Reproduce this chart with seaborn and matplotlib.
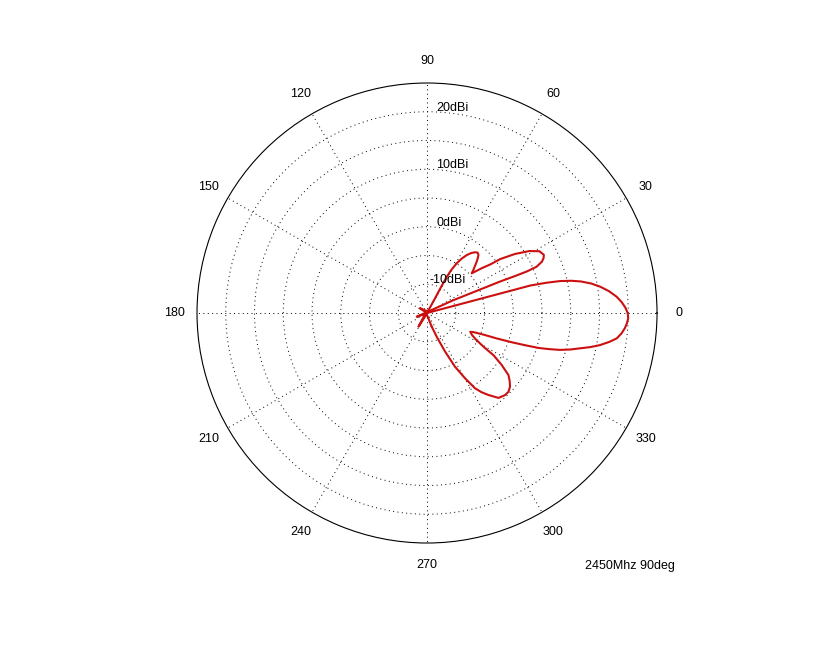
import numpy as np
import matplotlib
matplotlib.use('Agg')
import matplotlib.pyplot as plt
import matplotlib.transforms as mtransforms
import pandas as pd
import seaborn as sns

# ---- data (angle in degrees, gain in dBi) ----
angle_deg = [
    # lower side lobe
    -71.0, -67.7, -65.0, -62.5, -59.8, -57.5, -55.5, -53.2, -49.9, -46.4,
    -44.0, -41.6, -39.4, -37.3, -34.8, -32.4, -30.9, -28.5, -26.0, -23.5,
    # main lobe
    -22.4, -21.0, -20.0, -19.0, -18.2, -17.4, -16.5, -15.5, -14.3, -13.0,
    -11.8, -10.5, -9.0, -7.6, -6.0, -4.4, -3.0, -1.5, 0.0, 1.6,
    3.2, 4.9, 6.8, 8.6, 10.2, 11.6, 12.6, 13.5, 14.2, 14.5,
    14.9,
    # null
    15.5, 200.0,
    # second upper side lobe
    26.0, 24.0, 23.3, 22.8, 22.6, 22.9, 24.1, 25.2, 26.5, 28.8,
    31.2, 33.9, 36.4, 37.5, 39.3, 41.6,
    # first upper side lobe
    42.9, 44.5, 45.9, 47.2, 48.5, 50.0, 51.5, 53.5, 55.6, 57.5,
    59.1, 60.5, 61.5, 61.6, 61.4,
    # back region (near the floor)
    63.0, 146.0, 150.0, 238.0, 250.0, 289.0,
]
gain_dbi = [
    -12.5, -10.5, -7.7, -4.5, -1.9, 0.5, 1.7, 2.8, 4.3, 4.7,
    4.7, 4.3, 3.6, 2.8, 0.8, -1.3, -3.5, -5.3, -6.3, -6.8,
    -6.3, -4.6, -2.0, 0.7, 2.9, 5.3, 7.1, 9.0, 10.7, 12.3,
    14.0, 15.6, 17.1, 18.3, 19.0, 19.5, 19.8, 20.0, 19.9, 19.5,
    18.9, 18.1, 16.9, 15.5, 14.0, 12.3, 10.7, 8.8, 6.5, 5.2,
    3.6,
    -14.6, -13.1,
    -10.0, -5.4, -1.1, 1.5, 3.8, 5.7, 6.9, 7.4, 7.7, 7.3,
    5.8, 3.4, 0.8, -1.1, -2.7, -4.6,
    -4.0, -3.3, -2.6, -2.0, -1.5, -1.3, -1.5, -2.0, -2.8, -3.8,
    -4.9, -6.3, -7.9, -10.1, -12.1,
    -14.7, -13.5, -14.8, -12.2, -14.8, -12.5,
]

ring_values = [-10, -5, 0, 5, 10, 15, 20]
ring_label_values = [-10, 0, 10, 20]
ring_label_texts = ['-10dBi', '0dBi', '10dBi', '20dBi']
angle_ticks = list(range(0, 360, 30))
angle_tick_labels = [str(a) for a in angle_ticks]
r_min, r_max = -15, 25
caption = '2450Mhz 90deg'

sns.set_theme(style='white')
plt.rcParams['font.family'] = ['Liberation Sans', 'DejaVu Sans']

fig = plt.figure(figsize=(8.25, 6.49), dpi=100)
fig.patch.set_facecolor('white')
ax = fig.add_axes([0.2388, 0.1633, 0.5576, 0.7088], projection='polar')
ax.set_facecolor('white')

df = pd.DataFrame({'theta': np.deg2rad(angle_deg), 'gain': gain_dbi})
sns.lineplot(data=df, x='theta', y='gain', sort=False, estimator=None,
             color='#cc1010', linewidth=1.5, ax=ax)

ax.set_ylim(r_min, r_max)
ax.set_yticks(ring_values)
ax.set_yticklabels([])
ax.set_xticks(np.deg2rad(angle_ticks))
ax.set_xticklabels([])
ax.set_xlabel('')
ax.set_ylabel('')
ax.grid(True, color='black', linestyle=(0, (1, 3.5)), linewidth=0.7)
ax.spines['polar'].set_color('black')
ax.spines['polar'].set_linewidth(0.8)

# angle labels outside the circle
for a, lab in zip(angle_ticks, angle_tick_labels):
    ax.text(np.deg2rad(a), 28.9, lab, ha='center', va='center',
            fontsize=9, color='black', clip_on=False)

# radial labels along the 90 deg spoke
for v, lab in zip(ring_label_values, ring_label_texts):
    dx = 2 if lab.startswith('-') else 9
    tr = mtransforms.offset_copy(ax.transData, fig=fig, x=dx, y=1, units='dots')
    ax.text(np.pi / 2, v, lab, transform=tr, ha='left', va='baseline',
            fontsize=9, color='black')

fig.text(585 / 825, 1 - 566 / 649, caption, ha='left', va='center',
         fontsize=9, color='black')

fig.savefig('out.png', dpi=100, facecolor='white')
